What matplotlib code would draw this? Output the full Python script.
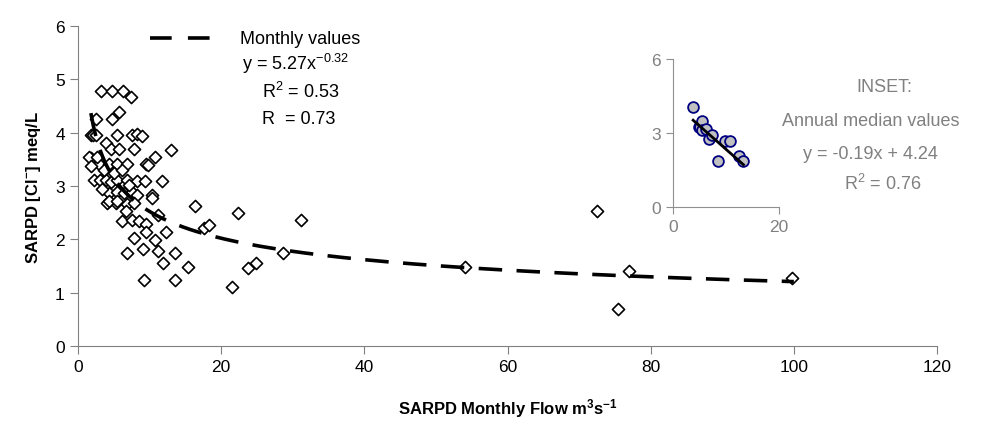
import matplotlib
matplotlib.use("Agg")
import matplotlib.pyplot as plt
import numpy as np

plt.rcParams['font.family'] = ['Liberation Sans', 'DejaVu Sans']
plt.rcParams['mathtext.fontset'] = 'custom'
plt.rcParams['mathtext.rm'] = 'Liberation Sans'
plt.rcParams['mathtext.it'] = 'Liberation Sans'
plt.rcParams['mathtext.bf'] = 'Liberation Sans:bold'
plt.rcParams['mathtext.default'] = 'regular'

# Monthly values (flow m3/s, chloride meq/L)
flow = [3.2, 4.8, 6.3, 7.4, 5.7, 4.8, 2.5,
        1.8, 2.1, 2.5, 5.4, 7.6, 8.3, 8.9, 3.9,
        4.6, 5.7, 7.8, 13.0, 1.8, 1.5, 10.8,
        2.9, 4.3, 5.5, 6.9, 9.5, 9.8, 1.8,
        2.3, 3.1, 3.9, 4.6, 5.5, 6.9, 8.2, 9.3, 11.7,
        4.3, 5.5, 6.4, 7.6, 8.3, 10.4, 10.4,
        4.1, 5.3, 6.9, 7.8, 4.4, 5.4,
        6.7, 16.3, 11.2, 22.4, 72.5,
        6.2, 7.6, 8.5, 9.5, 17.6, 18.3,
        9.5, 12.3, 7.8, 10.8, 31.1,
        6.8, 9.1, 11.2, 13.5, 28.6,
        11.9, 15.3, 24.9, 23.8, 54.0,
        9.2, 13.5, 21.5, 77.0, 75.5, 99.8,
        2.6, 3.6, 5.0, 6.2, 7.1, 3.3]
chloride = [4.78, 4.78, 4.78, 4.66, 4.39, 4.25, 4.25,
            3.96, 3.96, 3.96, 3.96, 3.96, 3.98, 3.94, 3.81,
            3.69, 3.69, 3.69, 3.67, 3.53, 3.55, 3.55,
            3.41, 3.41, 3.41, 3.41, 3.41, 3.40, 3.38,
            3.12, 3.12, 3.12, 3.08, 3.12, 3.12, 3.10, 3.10, 3.10,
            2.87, 2.88, 2.86, 2.88, 2.83, 2.84, 2.77,
            2.68, 2.68, 2.67, 2.68, 2.72, 2.72,
            2.53, 2.62, 2.45, 2.49, 2.53,
            2.35, 2.36, 2.34, 2.28, 2.22, 2.26,
            2.13, 2.14, 2.02, 1.99, 2.36,
            1.75, 1.82, 1.79, 1.74, 1.74,
            1.55, 1.49, 1.55, 1.47, 1.48,
            1.24, 1.24, 1.11, 1.41, 0.69, 1.27,
            3.55, 3.30, 3.25, 3.30, 3.02, 2.95]

# Annual median values (inset)
ann_flow = [3.8, 4.9, 5.1, 5.4, 5.5, 6.3, 6.7, 7.3, 8.55, 9.8, 10.75, 12.5, 13.3]
ann_cl = [4.05, 3.24, 3.24, 3.5, 3.14, 3.16, 2.76, 2.92, 1.88, 2.69, 2.69, 2.08, 1.88]

# Fit parameters
pow_a, pow_b = 5.27, -0.32
lin_m, lin_c = -0.19, 4.24

W, H = 1004, 439
fig = plt.figure(figsize=(W / 100, H / 100), dpi=100)
ax = fig.add_axes([78 / W, 1 - 347 / H, (937 - 78) / W, (347 - 27) / H])

ax.scatter(flow, chloride, marker='D', s=38, facecolors='white',
           edgecolors='black', linewidths=1.2, zorder=3)
xf = np.linspace(1.8, 100, 300)
ax.plot(xf, pow_a * xf ** pow_b, color='black', lw=2.6,
        dashes=(6.5, 4), zorder=4)

ax.set_xlim(0, 120)
ax.set_ylim(0, 6)
ax.set_xticks(np.arange(0, 121, 20))
ax.set_yticks(np.arange(0, 7, 1))
for s in ['top', 'right']:
    ax.spines[s].set_visible(False)
for s in ['left', 'bottom']:
    ax.spines[s].set_color('#808080')
ax.tick_params(direction='out', length=6, color='#808080', labelsize=12.5)
ax.set_xlabel('SARPD Monthly Flow m$\\mathbf{^{3}}$s$\\mathbf{^{-1}}$',
              fontsize=12, fontweight='bold', labelpad=16)
ax.set_ylabel('SARPD [Cl$\\mathbf{^{-}}$] meq/L', fontsize=12,
              fontweight='bold', labelpad=9)

# legend-like annotation
fig.lines.append(plt.Line2D([150 / W, 218 / W], [1 - 39 / H, 1 - 39 / H],
                            color='black', lw=2.6, dashes=(6, 4.5),
                            transform=fig.transFigure))
fig.text(240 / W, 1 - 39 / H, 'Monthly values', fontsize=13, va='center')
fig.text(296 / W, 1 - 64 / H, 'y = 5.27x$^{-0.32}$', fontsize=13,
         va='center', ha='center')
fig.text(262 / W, 1 - 92 / H, 'R$^{2}$ = 0.53', fontsize=13, va='center')
fig.text(262 / W, 1 - 120 / H, 'R  = 0.73', fontsize=13, va='center')

# inset
ins = fig.add_axes([673 / W, 1 - 208 / H, 106 / W, 148 / H])
ins.scatter(ann_flow, ann_cl, marker='o', s=60, facecolors='#c0c0c0',
            edgecolors='#000080', linewidths=1.3, zorder=3)
xl = np.array([min(ann_flow), max(ann_flow)])
ins.plot(xl, lin_m * xl + lin_c, color='black', lw=2, zorder=4)
ins.set_xlim(0, 20)
ins.set_ylim(0, 6)
ins.set_xticks([0, 20])
ins.set_yticks([0, 3, 6])
ins.patch.set_alpha(0)
for s in ['top', 'right']:
    ins.spines[s].set_visible(False)
for s in ['left', 'bottom']:
    ins.spines[s].set_color('#909090')
ins.tick_params(direction='out', length=5, color='#909090',
                labelcolor='#808080', labelsize=12.5)

gray = '#808080'
fig.text(884 / W, 1 - 88 / H, 'INSET:', fontsize=13, color=gray,
         ha='center', va='center')
fig.text(871 / W, 1 - 121 / H, 'Annual median values', fontsize=13,
         color=gray, ha='center', va='center')
fig.text(870 / W, 1 - 155 / H, 'y = -0.19x + 4.24', fontsize=13,
         color=gray, ha='center', va='center')
fig.text(883 / W, 1 - 184 / H, 'R$^{2}$ = 0.76', fontsize=13, color=gray,
         ha='center', va='center')

fig.savefig('out.png', dpi=100)
